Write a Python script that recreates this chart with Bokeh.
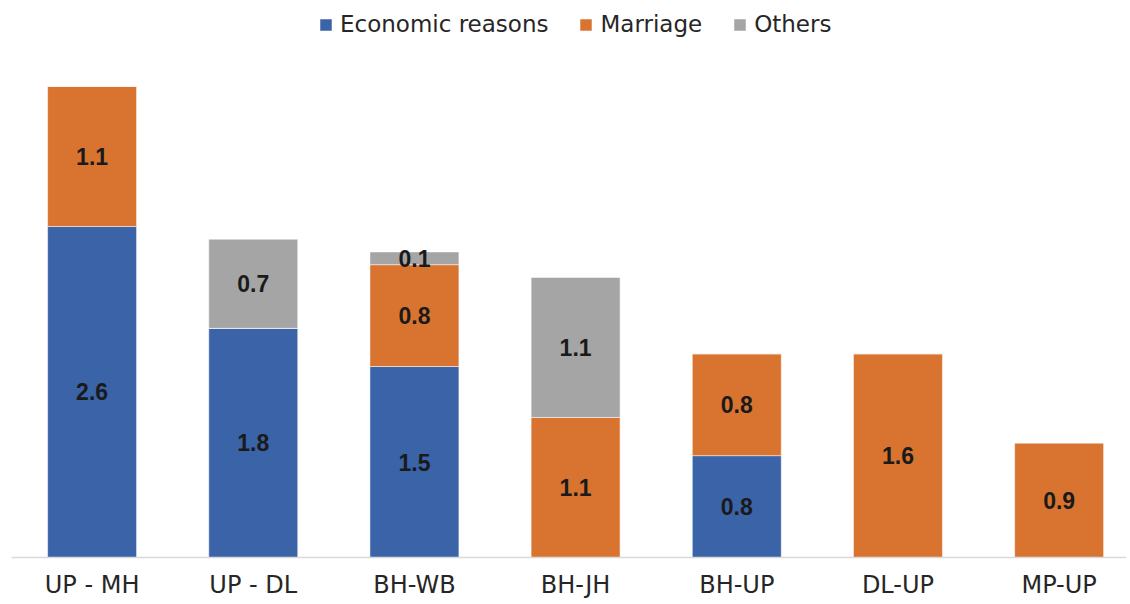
from bokeh.plotting import figure
from bokeh.models import ColumnDataSource, FixedTicker, Legend, LegendItem, Range1d
from bokeh.core.properties import value
from bokeh.embed import file_html
from bokeh.resources import INLINE

categories = ["UP - MH", "UP - DL", "BH-WB", "BH-JH", "BH-UP", "DL-UP", "MP-UP"]
economic = [2.6, 1.8, 1.5, 0.0, 0.8, 0.0, 0.0]
marriage = [1.1, 0.0, 0.8, 1.1, 0.8, 1.6, 0.9]
others = [0.0, 0.7, 0.1, 1.1, 0.0, 0.0, 0.0]
series_names = ["Economic reasons", "Marriage", "Others"]
colors = ["#3B63A8", "#D97430", "#A5A5A5"]

xs = list(range(len(categories)))
src = ColumnDataSource(dict(x=xs, economic=economic, marriage=marriage, others=others))

p = figure(width=1126, height=602, output_backend="svg", toolbar_location=None,
           x_range=Range1d(-0.5, 6.418), y_range=Range1d(0, 4.375),
           min_border_left=11, min_border_right=0, min_border_top=0, min_border_bottom=45,
           outline_line_color=None)

renderers = p.vbar_stack(["economic", "marriage", "others"], x="x", width=0.552,
                         color=colors, line_color="white", line_alpha=0.5, line_width=1,
                         source=src)

# labels centred in each non-zero segment
lx, ly, lt = [], [], []
for i in xs:
    base = 0.0
    for vals in (economic, marriage, others):
        v = vals[i]
        if v > 0:
            lx.append(i)
            ly.append(base + v / 2)
            lt.append(f"{v:.1f}")
        base += v
p.text(x=lx, y=ly, text=lt, text_align="center", text_baseline="middle",
       text_font=value("Liberation Sans"), text_font_style="bold",
       text_font_size="23px", text_color="#1a1a1a")

p.xgrid.visible = False
p.ygrid.visible = False
p.yaxis.visible = False
xa = p.xaxis[0]
xa.ticker = FixedTicker(ticks=xs)
xa.major_label_overrides = {i: c for i, c in enumerate(categories)}
xa.major_tick_line_color = None
xa.minor_tick_line_color = None
xa.axis_line_color = "#D9D9D9"
xa.axis_line_width = 1.5
xa.major_label_text_font = "DejaVu Sans"
xa.major_label_text_font_size = "24px"
xa.major_label_text_color = "#262626"
xa.major_label_standoff = 7

legend = Legend(items=[LegendItem(label=n, renderers=[r]) for n, r in zip(series_names, renderers)],
                orientation="horizontal", location=(307, 520),
                label_text_font="DejaVu Sans", label_text_font_size="23px",
                label_text_color="#262626", glyph_width=15, glyph_height=15,
                label_standoff=7, spacing=30, border_line_color=None,
                background_fill_alpha=0, padding=0, margin=0)
p.add_layout(legend, "center")

open("out.html", "w").write(file_html(p, INLINE))
